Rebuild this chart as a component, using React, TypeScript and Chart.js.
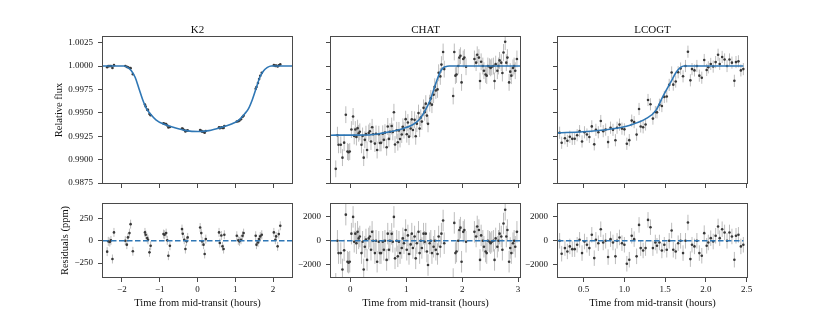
import React, { useEffect, useRef } from "react";
import { Chart, registerables } from "chart.js";

Chart.register(...registerables);

const FONT = "'Liberation Serif', 'Times New Roman', serif";
const BLUE = "#2f77b5";
const POINT = "#383838";
const ERRBAR = "#bdbdbd";
const FRAME = "#4a4a4a";
const TEXT = "#111111";

// ---------- axis ranges & ticks ----------
const FLUX_RANGE = [0.9875, 1.0031];
const FLUX_TICKS = [0.9875, 0.99, 0.9925, 0.995, 0.9975, 1.0, 1.0025];
const K2_XRANGE = [-2.5, 2.5];
const K2_X_TICKS = [-2, -1, 0, 1, 2];
const CHAT_XRANGE = [-0.345, 3.035];
const CHAT_X_TICKS = [0, 1, 2, 3];
const LCOGT_XRANGE = [0.185, 2.505];
const LCOGT_X_TICKS = [0.5, 1.0, 1.5, 2.0, 2.5];
const K2_RES_RANGE = [-405, 410];
const K2_RES_TICKS = [-250, 0, 250];
const GB_RES_RANGE = [-3030, 3080];
const GB_RES_TICKS = [-2000, 0, 2000];

// ---------- K2 ----------
const K2_MODEL_T = [-2.5, -1.95, -1.85, -1.75, -1.65, -1.55, -1.45, -1.35, -1.25, -1.1, -0.9, -0.6, -0.3, 0, 0.3, 0.6, 0.9, 1.1, 1.25, 1.35, 1.45, 1.55, 1.65, 1.75, 1.85, 1.95, 2.5];
const K2_MODEL_FLUX = [1.0, 1.0, 0.99985, 0.9995, 0.9988, 0.9976, 0.9964, 0.99545, 0.9949, 0.99425, 0.9938, 0.9934, 0.9931, 0.993, 0.9931, 0.9934, 0.9938, 0.99425, 0.9949, 0.99545, 0.9964, 0.9976, 0.9988, 0.9995, 0.99985, 1.0, 1.0];
const K2_T = [
  -2.39, -2.36, -2.32, -2.29, -2.25, -2.21,
  -1.91, -1.87, -1.84, -1.8, -1.77, -1.71,
  -1.39, -1.37, -1.33, -1.31, -1.27, -1.24,
  -0.9, -0.87, -0.83, -0.8, -0.77, -0.73,
  -0.41, -0.39, -0.35, -0.32, -0.29, -0.26,
  0.07, 0.1, 0.12, 0.16, 0.19, 0.22,
  0.57, 0.59, 0.63, 0.66, 0.69, 0.71,
  1.04, 1.08, 1.11, 1.15, 1.19, 1.22,
  1.54, 1.56, 1.6, 1.63, 1.66, 1.7,
  2.02, 2.06, 2.08, 2.12, 2.15, 2.19,
];
const K2_FLUX = [
  0.99988, 0.99999, 0.99999, 1.0, 0.9998, 1.00009,
  1.0, 0.99991, 0.99986, 0.99979, 0.99977, 0.99913,
  0.99589, 0.99567, 0.99533, 0.99531, 0.99487, 0.99474,
  0.99387, 0.99382, 0.99379, 0.99365, 0.99343, 0.99349,
  0.99333, 0.99328, 0.99316, 0.99301, 0.99309, 0.99312,
  0.99315, 0.99309, 0.99299, 0.99296, 0.99288, 0.99305,
  0.99346, 0.99336, 0.99345, 0.99339, 0.99339, 0.99359,
  0.99406, 0.9941, 0.99419, 0.99431, 0.99456, 0.99469,
  0.99756, 0.99776, 0.99818, 0.99862, 0.99895, 0.99927,
  1.00009, 1.00001, 1.00005, 0.99994, 1.00007, 1.00017,
];
const K2_RES = [
  -122, -7, -15, 4, -204, 93,
  0, -44, 37, 85, 185, -118,
  93, 67, 30, 11, -130, -56,
  74, 67, 85, 4, -167, -56,
  130, 78, 11, -93, -7, 37,
  148, 85, -7, -44, -148, 18,
  93, -26, 59, -63, -93, 67,
  56, 4, -7, 11, 56, 85,
  56, -44, -19, 18, 48, 67,
  93, 11, 48, -63, 74, 167,
];
const K2_ERR_PPM = 50;

// ---------- CHAT ----------
const CHAT_MODEL_T = [-0.345, 0.3, 0.6, 0.8, 0.95, 1.08, 1.19, 1.25, 1.31, 1.37, 1.43, 1.52, 1.61, 1.66, 1.7, 1.77, 3.035];
const CHAT_MODEL_FLUX = [0.99261, 0.99263, 0.99286, 0.99308, 0.99333, 0.99362, 0.99404, 0.9944, 0.99493, 0.9956, 0.99636, 0.99797, 0.99939, 0.9998, 0.99993, 1.0, 1.0];
const CHAT_T = [
  -0.26, -0.23, -0.21, -0.17, -0.14, -0.11, -0.08, -0.05, -0.03, -0.01,
  0.02, 0.05, 0.07, 0.09, 0.11, 0.13, 0.15, 0.17, 0.2, 0.22,
  0.24, 0.26, 0.28, 0.3, 0.33, 0.35, 0.37, 0.39, 0.41, 0.44,
  0.46, 0.48, 0.51, 0.53, 0.55, 0.58, 0.6, 0.62, 0.65, 0.67,
  0.69, 0.71, 0.74, 0.76, 0.78, 0.8, 0.83, 0.85, 0.87, 0.89,
  0.92, 0.94, 0.96, 0.99, 1.01, 1.03, 1.05, 1.08, 1.1, 1.12,
  1.15, 1.17, 1.19, 1.22, 1.24, 1.26, 1.28, 1.31, 1.33, 1.35,
  1.37, 1.39, 1.42, 1.44, 1.46, 1.49, 1.51, 1.53, 1.56, 1.58,
  1.61, 1.63, 1.66, 1.68, 1.84, 1.86, 1.88, 1.9, 1.93, 1.95,
  1.97, 1.99, 2.02, 2.04, 2.07, 2.22, 2.25, 2.27, 2.3, 2.32,
  2.34, 2.37, 2.39, 2.42, 2.44, 2.46, 2.49, 2.51, 2.53, 2.56,
  2.58, 2.6, 2.63, 2.65, 2.67, 2.7, 2.72, 2.74, 2.77, 2.79,
  2.81, 2.84, 2.86, 2.88, 2.91, 2.93, 2.95, 2.98,
];
const CHAT_FLUX = [
  0.98901, 0.99261, 0.99158, 0.99158, 0.99021, 0.99181, 0.9948, 0.99086, 0.99078, 0.99086,
  0.99321, 0.99461, 0.99253, 0.99321, 0.99241, 0.99336, 0.99281, 0.99297, 0.99158, 0.99253,
  0.99021, 0.99211, 0.99272, 0.99103, 0.99285, 0.99303, 0.99193, 0.99345, 0.99271, 0.99171,
  0.99275, 0.99102, 0.99271, 0.99178, 0.99179, 0.99276, 0.99211, 0.99288, 0.99132, 0.99354,
  0.99221, 0.99298, 0.99359, 0.99296, 0.99506, 0.99161, 0.99313, 0.99186, 0.99312, 0.9922,
  0.99268, 0.99351, 0.99315, 0.99432, 0.99271, 0.99396, 0.99245, 0.99332, 0.9943, 0.99317,
  0.99425, 0.99249, 0.99384, 0.99497, 0.99331, 0.99449, 0.99406, 0.99553, 0.99507, 0.99598,
  0.9947, 0.99382, 0.99603, 0.99654, 0.99587, 0.99693, 0.99779, 0.99738, 0.9975, 0.99928,
  0.99889, 1.00015, 1.0015, 0.99967, 0.9968, 1.0015, 0.99897, 0.9991, 1.0, 1.0009,
  1.0011, 0.99825, 1.00075, 1.0009, 0.99992, 1.00075, 1.00036, 1.0012, 1.0009, 0.9984,
  1.00045, 1.0, 0.9995, 0.9991, 0.99897, 1.0, 0.99992, 0.9998, 0.99992, 1.0,
  0.9984, 1.0002, 0.9995, 1.0, 1.0006, 1.00036, 0.99925, 1.00145, 1.0026, 1.00036,
  1.0009, 0.99825, 0.9994, 0.99897, 0.9998, 1.0, 0.9995, 1.00075,
];
const CHAT_RES = [
  -3600, 0, -1030, -1030, -2400, -800, 2190, -1750, -1830, -1750,
  600, 2000, -80, 600, -200, 750, 200, 360, -1030, -80,
  -2400, -500, 110, -1600, 200, 360, -750, 750, 0, -1030,
  0, -1750, -80, -1030, -1030, -80, -750, 0, -1600, 600,
  -750, 0, 580, -80, 2000, -1470, 0, -1300, -80, -1030,
  -600, 200, -200, 900, -750, 450, -1100, -300, 600, -600,
  360, -1470, -200, 750, -1030, 0, -600, 600, -80, 600,
  -900, -2030, -200, 0, -1030, -500, 0, -750, -1100, 360,
  -500, 600, 1700, -200, -3200, 1500, -1030, -900, 0, 900,
  1100, -1750, 750, 900, -80, 750, 360, 1200, 900, -1600,
  450, 0, -500, -900, -1030, 0, -80, -200, -80, 0,
  -1600, 200, -500, 0, 600, 360, -750, 1450, 2600, 360,
  900, -1750, -600, -1030, -200, 0, -500, 750,
];
const CHAT_ERR_PPM = 900;

// ---------- LCOGT ----------
const LCOGT_MODEL_T = [0.185, 0.49, 0.82, 1.07, 1.27, 1.39, 1.47, 1.56, 1.64, 1.69, 1.73, 2.46];
const LCOGT_MODEL_FLUX = [0.99286, 0.99297, 0.99325, 0.99368, 0.9944, 0.99529, 0.99671, 0.99814, 0.99939, 0.99985, 1.0, 1.0];
const LCOGT_T = [
  0.205, 0.23, 0.27, 0.3, 0.33, 0.36, 0.39, 0.42, 0.45, 0.48,
  0.51, 0.54, 0.57, 0.6, 0.63, 0.65, 0.68, 0.71, 0.74, 0.77,
  0.8, 0.83, 0.86, 0.89, 0.91, 0.94, 0.97, 1.0, 1.03, 1.06,
  1.09, 1.12, 1.15, 1.18, 1.2, 1.23, 1.26, 1.29, 1.32, 1.35,
  1.38, 1.4, 1.43, 1.46, 1.49, 1.52, 1.55, 1.58, 1.6, 1.63,
  1.66, 1.69, 1.72, 1.75, 1.78, 1.81, 1.83, 1.86, 1.89, 1.92,
  1.95, 1.98, 2.01, 2.03, 2.06, 2.09, 2.12, 2.15, 2.17, 2.2,
  2.23, 2.26, 2.29, 2.32, 2.35, 2.37, 2.4, 2.43, 2.46,
];
const LCOGT_FLUX = [
  0.99287, 0.9918, 0.99228, 0.99201, 0.99244, 0.99222, 0.99223, 0.99261, 0.99304, 0.99194,
  0.99292, 0.99268, 0.99242, 0.99355, 0.99163, 0.99318, 0.99292, 0.99412, 0.99304, 0.99321,
  0.99187, 0.99341, 0.99318, 0.99207, 0.9934, 0.99374, 0.99331, 0.99323, 0.99169, 0.99208,
  0.99417, 0.994, 0.99267, 0.99541, 0.99354, 0.99345, 0.99375, 0.99637, 0.99591, 0.99438,
  0.99508, 0.99505, 0.99586, 0.99572, 0.9967, 0.99675, 0.99798, 0.99931, 0.99801, 0.99834,
  0.99933, 0.99973, 0.9989, 1.0, 1.00153, 0.99847, 0.99967, 0.99953, 1.0, 0.99897,
  0.99875, 1.00064, 0.99958, 0.99986, 1.00022, 0.99994, 1.00042, 1.0012, 1.00022, 1.00097,
  1.0007, 1.0, 1.0007, 1.00036, 0.99842, 1.00042, 1.0005, 0.99953, 0.99967,
];
const LCOGT_RES = [
  0, -1080, -610, -890, -470, -700, -700, -330, 80, -1030,
  -60, -330, -610, 500, -1450, 80, -200, 970, -140, 0,
  -1360, 140, -140, -1300, 0, 280, -200, -330, -1920, -1580,
  420, 140, -1300, 1330, -610, -810, -610, 1750, 1140, -610,
  -140, -420, -140, -810, -330, -750, 0, 860, -750, -890,
  -200, 0, -1030, 0, 1530, -1530, -330, -470, 0, -1030,
  -1250, 640, -420, -140, 220, -60, 420, 1200, 220, 970,
  700, 0, 700, 360, -1580, 420, 500, -470, -330,
];
const LCOGT_ERR_PPM = 650;

// ---------- helpers ----------
const pts = (t: number[], v: number[]) => t.map((x, i) => ({ x, y: v[i] }));
const errSegs = (t: number[], v: number[], e: number) => {
  const out: { x: number; y: number | null }[] = [];
  t.forEach((x, i) => {
    out.push({ x, y: v[i] - e }, { x, y: v[i] + e }, { x, y: null });
  });
  return out;
};
const minus = (v: number) => String(v).replace("-", "\u2212");

const framePlugin = {
  id: "frame",
  afterDatasetsDraw(chart: any) {
    const { ctx, chartArea } = chart;
    const { left, top, right, bottom } = chartArea;
    ctx.save();
    ctx.strokeStyle = FRAME;
    ctx.lineWidth = 1;
    ctx.strokeRect(Math.round(left) - 0.5, Math.round(top) - 0.5, Math.round(right - left) + 1, Math.round(bottom - top) + 1);
    ctx.restore();
  },
};

type PanelCfg = {
  left: number;
  top: number;
  w: number;
  h: number;
  yWidth: number;
  xHeight: number;
  padding: { top: number; right: number; bottom: number; left: number };
  title?: string;
  yTitle?: string;
  yTitlePad?: number;
  xTitle?: string;
  xRange: number[];
  yRange: number[];
  xTicks: number[];
  yTicks: number[];
  xLabels: boolean;
  yLabels: boolean;
  fmtX: (v: number) => string;
  fmtY: (v: number) => string;
  datasets: any[];
};

function buildConfig(c: PanelCfg): any {
  const tickFont = { family: FONT, size: 9 };
  const gridOpts = {
    display: true,
    drawOnChartArea: false,
    drawTicks: true,
    tickLength: 5,
    color: FRAME,
    tickColor: FRAME,
    lineWidth: 1,
  };
  return {
    type: "scatter",
    data: { datasets: c.datasets },
    plugins: [framePlugin],
    options: {
      animation: false,
      responsive: false,
      maintainAspectRatio: false,
      devicePixelRatio: 1,
      events: [],
      layout: { padding: c.padding },
      plugins: {
        legend: { display: false },
        tooltip: { enabled: false },
        title: {
          display: !!c.title,
          text: c.title || "",
          fullSize: false,
          color: TEXT,
          font: { family: FONT, size: 11, weight: "normal", lineHeight: 1.2 },
          padding: { top: 5.5, bottom: 0.3 },
        },
      },
      scales: {
        x: {
          type: "linear",
          position: "bottom",
          min: c.xRange[0],
          max: c.xRange[1],
          afterBuildTicks: (s: any) => {
            s.ticks = c.xTicks.map((v) => ({ value: v }));
          },
          afterFit: (s: any) => {
            s.height = c.xHeight;
            s.paddingLeft = 0;
            s.paddingRight = 0;
          },
          ticks: {
            display: c.xLabels,
            autoSkip: false,
            maxRotation: 0,
            minRotation: 0,
            padding: 2.5,
            color: TEXT,
            font: tickFont,
            callback: (v: number) => c.fmtX(v),
          },
          grid: gridOpts,
          border: { display: false },
          title: {
            display: !!c.xTitle,
            text: c.xTitle || "",
            color: TEXT,
            font: { family: FONT, size: 10.5, lineHeight: 1.2 },
            padding: { top: 0, bottom: 2 },
          },
        },
        y: {
          type: "linear",
          position: "left",
          min: c.yRange[0],
          max: c.yRange[1],
          afterBuildTicks: (s: any) => {
            s.ticks = c.yTicks.map((v) => ({ value: v }));
          },
          afterFit: (s: any) => {
            s.width = c.yWidth;
            s.paddingTop = 0;
            s.paddingBottom = 0;
          },
          ticks: {
            display: c.yLabels,
            autoSkip: false,
            padding: 5,
            color: TEXT,
            font: tickFont,
            callback: (v: number) => c.fmtY(v),
          },
          grid: gridOpts,
          border: { display: false },
          title: {
            display: !!c.yTitle,
            text: c.yTitle || "",
            color: TEXT,
            font: { family: FONT, size: 10.5, lineHeight: 1.2 },
            padding: { top: c.yTitlePad || 0, bottom: 0 },
          },
        },
      },
    },
  };
}

function modelSet(t: number[], v: number[]) {
  return {
    data: pts(t, v),
    showLine: true,
    pointRadius: 0,
    borderColor: BLUE,
    borderWidth: 1.6,
    cubicInterpolationMode: "monotone",
    clip: 0,
  };
}
function zeroSet(range: number[]) {
  return {
    data: [
      { x: range[0], y: 0 },
      { x: range[1], y: 0 },
    ],
    showLine: true,
    pointRadius: 0,
    borderColor: BLUE,
    borderWidth: 1.6,
    borderDash: [5.5, 2.5],
    clip: 0,
  };
}
function pointSet(t: number[], v: number[]) {
  return {
    data: pts(t, v),
    showLine: false,
    pointRadius: 1.3,
    pointBorderWidth: 0,
    backgroundColor: POINT,
    borderColor: POINT,
    clip: 0,
  };
}
function errSet(t: number[], v: number[], e: number) {
  return {
    data: errSegs(t, v, e),
    showLine: true,
    spanGaps: false,
    pointRadius: 0,
    borderColor: ERRBAR,
    borderWidth: 1,
    clip: 0,
  };
}

const fmtFlux = (v: number) => v.toFixed(4);
const TOP_PAD = { top: 0, right: 8, bottom: 0, left: 0 };
const BOT_PAD = { top: 8, right: 8, bottom: 0, left: 0 };

const PANELS: PanelCfg[] = [
  {
    left: 40, top: 18, w: 260, h: 171, yWidth: 63, xHeight: 6, padding: TOP_PAD,
    title: "K2", yTitle: "Relative flux", yTitlePad: 12.5,
    xRange: K2_XRANGE, yRange: FLUX_RANGE, xTicks: K2_X_TICKS, yTicks: FLUX_TICKS,
    xLabels: false, yLabels: true, fmtX: minus, fmtY: fmtFlux,
    datasets: [
      modelSet(K2_MODEL_T, K2_MODEL_FLUX),
      pointSet(K2_T, K2_FLUX),
      errSet(K2_T, K2_FLUX, K2_ERR_PPM * 1e-6),
    ],
  },
  {
    left: 321, top: 18, w: 207, h: 171, yWidth: 10, xHeight: 6, padding: TOP_PAD,
    title: "CHAT",
    xRange: CHAT_XRANGE, yRange: FLUX_RANGE, xTicks: CHAT_X_TICKS, yTicks: FLUX_TICKS,
    xLabels: false, yLabels: false, fmtX: minus, fmtY: fmtFlux,
    datasets: [
      modelSet(CHAT_MODEL_T, CHAT_MODEL_FLUX),
      pointSet(CHAT_T, CHAT_FLUX),
      errSet(CHAT_T, CHAT_FLUX, CHAT_ERR_PPM * 1e-6),
    ],
  },
  {
    left: 548, top: 18, w: 207, h: 171, yWidth: 10, xHeight: 6, padding: TOP_PAD,
    title: "LCOGT",
    xRange: LCOGT_XRANGE, yRange: FLUX_RANGE, xTicks: LCOGT_X_TICKS, yTicks: FLUX_TICKS,
    xLabels: false, yLabels: false, fmtX: (v) => v.toFixed(1), fmtY: fmtFlux,
    datasets: [
      modelSet(LCOGT_MODEL_T, LCOGT_MODEL_FLUX),
      pointSet(LCOGT_T, LCOGT_FLUX),
      errSet(LCOGT_T, LCOGT_FLUX, LCOGT_ERR_PPM * 1e-6),
    ],
  },
  {
    left: 40, top: 196, w: 260, h: 116, yWidth: 63, xHeight: 35, padding: BOT_PAD,
    yTitle: "Residuals (ppm)", yTitlePad: 18.7, xTitle: "Time from mid-transit (hours)",
    xRange: K2_XRANGE, yRange: K2_RES_RANGE, xTicks: K2_X_TICKS, yTicks: K2_RES_TICKS,
    xLabels: true, yLabels: true, fmtX: minus, fmtY: minus,
    datasets: [
      zeroSet(K2_XRANGE),
      pointSet(K2_T, K2_RES),
      errSet(K2_T, K2_RES, K2_ERR_PPM),
    ],
  },
  {
    left: 286, top: 196, w: 242, h: 116, yWidth: 45, xHeight: 35, padding: BOT_PAD,
    xTitle: "Time from mid-transit (hours)",
    xRange: CHAT_XRANGE, yRange: GB_RES_RANGE, xTicks: CHAT_X_TICKS, yTicks: GB_RES_TICKS,
    xLabels: true, yLabels: true, fmtX: minus, fmtY: minus,
    datasets: [
      zeroSet(CHAT_XRANGE),
      pointSet(CHAT_T, CHAT_RES),
      errSet(CHAT_T, CHAT_RES, CHAT_ERR_PPM),
    ],
  },
  {
    left: 513, top: 196, w: 242, h: 116, yWidth: 45, xHeight: 35, padding: BOT_PAD,
    xTitle: "Time from mid-transit (hours)",
    xRange: LCOGT_XRANGE, yRange: GB_RES_RANGE, xTicks: LCOGT_X_TICKS, yTicks: GB_RES_TICKS,
    xLabels: true, yLabels: true, fmtX: (v) => v.toFixed(1), fmtY: minus,
    datasets: [
      zeroSet([LCOGT_XRANGE[0], 2.46]),
      pointSet(LCOGT_T, LCOGT_RES),
      errSet(LCOGT_T, LCOGT_RES, LCOGT_ERR_PPM),
    ],
  },
];

function PanelChart({ cfg }: { cfg: PanelCfg }) {
  const ref = useRef<HTMLCanvasElement | null>(null);
  useEffect(() => {
    if (!ref.current) return;
    const chart = new Chart(ref.current, buildConfig(cfg));
    return () => chart.destroy();
  }, [cfg]);
  return (
    <canvas
      ref={ref}
      width={cfg.w}
      height={cfg.h}
      style={{ position: "absolute", left: cfg.left, top: cfg.top, width: cfg.w, height: cfg.h }}
    />
  );
}

export default function App() {
  return (
    <div
      style={{
        position: "absolute",
        left: 0,
        top: 0,
        width: 830,
        height: 312,
        background: "#ffffff",
        overflow: "hidden",
      }}
    >
      {PANELS.map((p, i) => (
        <PanelChart key={i} cfg={p} />
      ))}
    </div>
  );
}
